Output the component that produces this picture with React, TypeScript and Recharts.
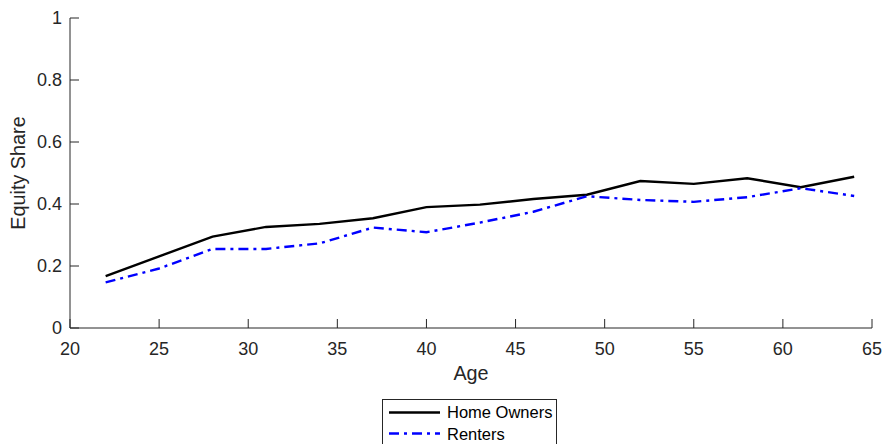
import React from 'react';
import { LineChart, Line, XAxis, YAxis, Legend } from 'recharts';

const ages = [22, 25, 28, 31, 34, 37, 40, 43, 46, 49, 52, 55, 58, 61, 64];
const homeOwners = [0.167, 0.231, 0.295, 0.326, 0.336, 0.354, 0.39, 0.398, 0.416, 0.43, 0.474, 0.465, 0.483, 0.454, 0.488];
const renters = [0.147, 0.192, 0.255, 0.255, 0.273, 0.324, 0.309, 0.34, 0.375, 0.425, 0.413, 0.407, 0.422, 0.451, 0.426];
const xTicks = [20, 25, 30, 35, 40, 45, 50, 55, 60, 65];
const yTicks = [0, 0.2, 0.4, 0.6, 0.8, 1];

const data = ages.map((age, i) => ({ age, owners: homeOwners[i], renters: renters[i] }));

const AXIS = '#262626';
const FONT = '"Liberation Sans", Arial, Helvetica, sans-serif';
const BLUE_DASH = '10 5 3 5';

const XTick = (props: any) => {
  const { x, y, payload } = props;
  return (
    <g>
      <line x1={x} x2={x} y1={y} y2={y - 9} stroke={AXIS} strokeWidth={1} />
      <text x={x} y={y + 27} textAnchor="middle" fill={AXIS} fontSize={18} fontFamily={FONT}>
        {payload.value}
      </text>
    </g>
  );
};

const YTick = (props: any) => {
  const { x, y, payload } = props;
  return (
    <g>
      <line x1={x} x2={x + 9} y1={y} y2={y} stroke={AXIS} strokeWidth={1} />
      <text x={x - 8} y={y + 6.4} textAnchor="end" fill={AXIS} fontSize={18} fontFamily={FONT}>
        {payload.value}
      </text>
    </g>
  );
};

const LegendBox = () => (
  <svg width={176} height={48} style={{ display: 'block' }}>
    <rect x={0.5} y={0.5} width={174} height={70} fill="#fff" stroke={AXIS} strokeWidth={1} />
    <line x1={7} x2={58} y1={13.5} y2={13.5} stroke="#000" strokeWidth={2.4} />
    <text x={65} y={19} fontSize={16.5} fontFamily={FONT} fill="#000">Home Owners</text>
    <line x1={7} x2={58} y1={34.5} y2={34.5} stroke="#0000ff" strokeWidth={2.4} strokeDasharray={BLUE_DASH} />
    <text x={65} y={41} fontSize={16.5} fontFamily={FONT} fill="#000">Renters</text>
  </svg>
);

export default function App() {
  return (
    <div style={{ position: 'absolute', left: 0, top: 0, width: 886, height: 444, background: '#fff', overflow: 'hidden' }}>
      <LineChart width={886} height={444} data={data} margin={{ top: 18, right: 14, bottom: 56, left: 0 }}>
        <XAxis
          dataKey="age"
          type="number"
          domain={[20, 65]}
          ticks={xTicks}
          tickSize={0}
          tickMargin={0}
          tickLine={false}
          tick={<XTick />}
          height={60}
          stroke={AXIS}
          interval={0}
          label={{
            content: (p: any) => {
              const vb = p.viewBox;
              return (
                <text x={vb.x + vb.width / 2} y={vb.y + 52} textAnchor="middle" fill={AXIS} fontSize={19.8} fontFamily={FONT}>
                  Age
                </text>
              );
            },
          }}
        />
        <YAxis
          type="number"
          domain={[0, 1]}
          ticks={yTicks}
          tickSize={0}
          tickMargin={0}
          tickLine={false}
          tick={<YTick />}
          width={70}
          stroke={AXIS}
          interval={0}
          label={{
            content: (p: any) => {
              const vb = p.viewBox;
              const cy = vb.y + vb.height / 2;
              return (
                <text x={25} y={cy} transform={`rotate(-90, 25, ${cy})`} textAnchor="middle" fill={AXIS} fontSize={19.8} fontFamily={FONT}>
                  Equity Share
                </text>
              );
            },
          }}
        />
        <Legend
          layout="vertical"
          verticalAlign="middle"
          align="center"
          wrapperStyle={{ left: 382, top: 399, width: 176, height: 48 }}
          content={() => <LegendBox />}
        />
        <Line type="linear" dataKey="owners" name="Home Owners" stroke="#000" strokeWidth={2.4} dot={false} isAnimationActive={false} />
        <Line type="linear" dataKey="renters" name="Renters" stroke="#0000ff" strokeWidth={2.4} strokeDasharray={BLUE_DASH} dot={false} isAnimationActive={false} />
      </LineChart>
    </div>
  );
}
